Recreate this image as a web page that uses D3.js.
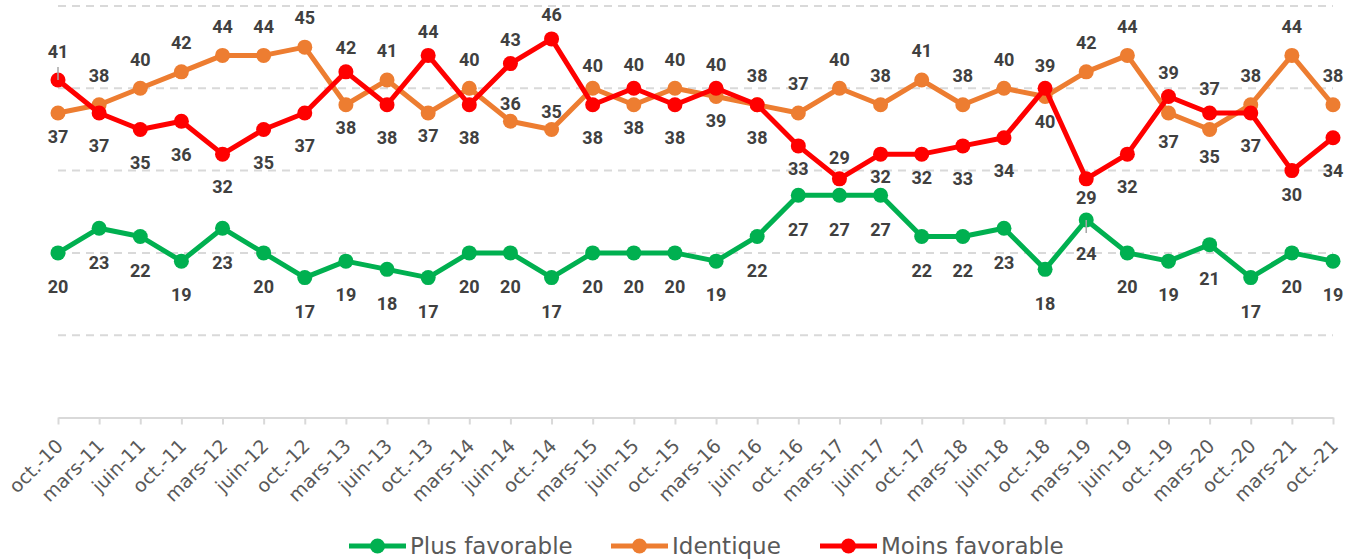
<!DOCTYPE html>
<html>
<head>
<meta charset="utf-8">
<script src="https://cdn.jsdelivr.net/npm/d3@7"></script>
<style>
  body { margin: 0; background: #fff; }
  svg { display: block; }
</style>
</head>
<body>
<svg id="chart" width="1345" height="559"></svg>
<script>
const categories = ["oct.-10", "mars-11", "juin-11", "oct.-11", "mars-12", "juin-12", "oct.-12", "mars-13",
    "juin-13", "oct.-13", "mars-14", "juin-14", "oct.-14", "mars-15", "juin-15", "oct.-15", "mars-16",
    "juin-16", "oct.-16", "mars-17", "juin-17", "oct.-17", "mars-18", "juin-18", "oct.-18", "mars-19",
    "juin-19", "oct.-19", "mars-20", "oct.-20", "mars-21", "oct.-21"];

const plusFavorable = [20, 23, 22, 19, 23, 20, 17, 19, 18, 17, 20, 20, 17, 20, 20, 20,
    19, 22, 27, 27, 27, 22, 22, 23, 18, 24, 20, 19, 21, 17, 20, 19];
const identique = [37, 38, 40, 42, 44, 44, 45, 38, 41, 37, 40, 36, 35, 40, 38, 40,
    39, 38, 37, 40, 38, 41, 38, 40, 39, 42, 44, 37, 35, 38, 44, 38];
const moinsFavorable = [41, 37, 35, 36, 32, 35, 37, 42, 38, 44, 38, 43, 46, 38, 40, 38,
    40, 38, 33, 29, 32, 32, 33, 34, 40, 29, 32, 39, 37, 37, 30, 34];

const gridValues = [10, 20, 30, 40, 50];

const series = [
    { name: "Plus favorable", values: plusFavorable, color: "#00B050" },
    { name: "Identique", values: identique, color: "#ED7D31" },
    { name: "Moins favorable", values: moinsFavorable, color: "#FF0000" }
];

// labels that were moved by hand in the original
const labelTweaks = {
    "Moins favorable|oct.-10": -28,
    "Moins favorable|oct.-16": 23,
    "Moins favorable|mars-17": -21,
    "Moins favorable|juin-17": 23,
    "Moins favorable|oct.-17": 24,
    "Moins favorable|oct.-18": 33,
    "Moins favorable|mars-19": 19,
    "Moins favorable|mars-21": 24,
    "Identique|oct.-10": 24,
    "Identique|juin-14": -18,
    "Identique|oct.-14": -18,
    "Identique|mars-15": -23,
    "Identique|mars-16": 24,
    "Identique|oct.-18": -31,
    "Identique|oct.-19": 29,
    "Identique|mars-20": 27
};

const svg = d3.select("#chart");

const x = d3.scalePoint().domain(categories).range([58, 1333]);
const y = d3.scaleLinear().domain([0, 50]).range([417.5, 6]);

// gridlines
svg.append("g")
    .selectAll("line")
    .data(gridValues)
    .enter()
    .append("line")
    .attr("x1", 58)
    .attr("x2", 1333)
    .attr("y1", d => y(d))
    .attr("y2", d => y(d))
    .attr("stroke", "#d9d9d9")
    .attr("stroke-width", 2)
    .attr("stroke-dasharray", "8,6");

// x axis
const xAxis = svg.append("g")
    .attr("transform", "translate(0," + y(0) + ")")
    .call(d3.axisBottom(x).tickSize(7).tickSizeOuter(0));

xAxis.select(".domain").attr("stroke", "#d9d9d9").attr("stroke-width", 2);
xAxis.selectAll(".tick line").attr("stroke", "#d9d9d9").attr("stroke-width", 2);
xAxis.selectAll(".tick text")
    .attr("x", 0)
    .attr("y", 0)
    .attr("dy", "0.35em")
    .attr("font-family", "'DejaVu Sans', sans-serif")
    .attr("font-size", 19)
    .attr("fill", "#595959")
    .attr("text-anchor", "end")
    .attr("transform", "translate(1,25) rotate(-45)");

// lines + markers
const line = d3.line()
    .x((d, i) => x(categories[i]))
    .y(d => y(d));

series.forEach(s => {
    svg.append("path")
        .datum(s.values)
        .attr("fill", "none")
        .attr("stroke", s.color)
        .attr("stroke-width", 5)
        .attr("stroke-linejoin", "round")
        .attr("d", line);

    svg.append("g")
        .selectAll("circle")
        .data(s.values)
        .enter()
        .append("circle")
        .attr("cx", (d, i) => x(categories[i]))
        .attr("cy", d => y(d))
        .attr("r", 7.5)
        .attr("fill", s.color);
});

// data labels
function labelOffset(s, i) {
    const key = s.name + "|" + categories[i];
    if (key in labelTweaks) return labelTweaks[key];
    if (s.name == "Plus favorable") return 34;
    if (s.name == "Identique") {
        return identique[i] >= moinsFavorable[i] ? -29 : 23;
    }
    return moinsFavorable[i] > identique[i] ? -24 : 33;
}

series.forEach(s => {
    svg.append("g")
        .selectAll("text")
        .data(s.values)
        .enter()
        .append("text")
        .attr("x", (d, i) => x(categories[i]))
        .attr("y", (d, i) => y(d) + labelOffset(s, i))
        .attr("dy", "0.35em")
        .attr("text-anchor", "middle")
        .attr("font-family", "Roboto, sans-serif")
        .attr("font-weight", "bold")
        .attr("font-size", 18)
        .attr("fill", "#404040")
        .text(d => d);
});

// small leader lines
svg.append("line")
    .attr("x1", x("oct.-10")).attr("x2", x("oct.-10"))
    .attr("y1", y(41) - 13).attr("y2", y(41))
    .attr("stroke", "#a6a6a6").attr("stroke-width", 1.5);
svg.append("line")
    .attr("x1", x("mars-19")).attr("x2", x("mars-19"))
    .attr("y1", y(24)).attr("y2", y(24) + 13)
    .attr("stroke", "#a6a6a6").attr("stroke-width", 1.5);

// legend
const legendX = [349, 611, 820];
const legend = svg.append("g");
series.forEach((s, i) => {
    const lx = legendX[i];
    legend.append("line")
        .attr("x1", lx).attr("x2", lx + 57)
        .attr("y1", 546).attr("y2", 546)
        .attr("stroke", s.color).attr("stroke-width", 5);
    legend.append("circle")
        .attr("cx", lx + 28.5).attr("cy", 546).attr("r", 7.5)
        .attr("fill", s.color);
    legend.append("text")
        .attr("x", lx + 61).attr("y", 546)
        .attr("dy", "0.35em")
        .attr("font-family", "'DejaVu Sans', sans-serif")
        .attr("font-size", 23)
        .attr("fill", "#595959")
        .text(s.name);
});
</script>
</body>
</html>
